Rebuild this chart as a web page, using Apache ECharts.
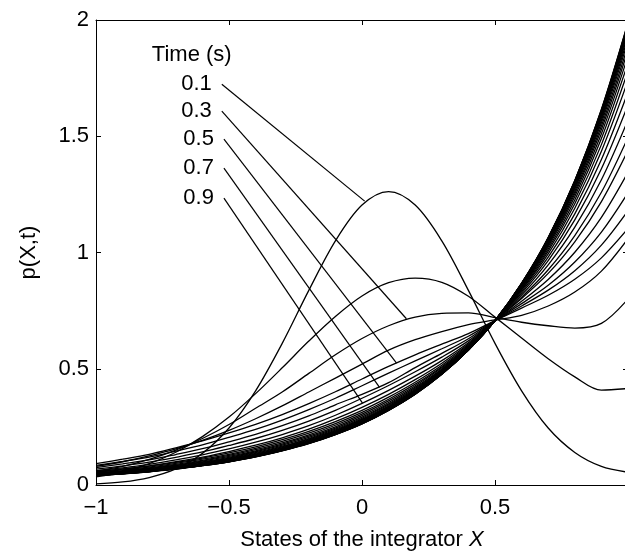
<!DOCTYPE html>
<html>
<head>
<meta charset="utf-8">
<title>p(X,t)</title>
<script src="https://cdn.jsdelivr.net/npm/echarts@6.0.0/dist/echarts.min.js"></script>
<style>
  html, body { margin: 0; padding: 0; background: #fff; }
  #chart { width: 625px; height: 554px; }
</style>
</head>
<body>
<div id="chart"></div>
<script>
// states of the integrator X (sample points)
var xs = [-1, -0.9, -0.8, -0.7, -0.6, -0.5, -0.4, -0.3, -0.2, -0.1, 0, 0.1, 0.2, 0.3, 0.4, 0.5, 0.6, 0.7, 0.8, 0.9, 1];

// p(X,t), one curve every 0.1 s, t = 0.1 ... 3.0 s
var p01 = [0.005, 0.013, 0.032, 0.069, 0.136, 0.245, 0.405, 0.609, 0.837, 1.05, 1.204, 1.262, 1.204, 1.05, 0.837, 0.609, 0.405, 0.245, 0.14, 0.08, 0.055];
var p02 = [0.035, 0.057, 0.092, 0.141, 0.208, 0.292, 0.393, 0.504, 0.619, 0.725, 0.813, 0.870, 0.890, 0.872, 0.812, 0.722, 0.632, 0.543, 0.465, 0.408, 0.415];
var p03 = [0.06, 0.08, 0.11, 0.15, 0.20, 0.26, 0.33, 0.40, 0.48, 0.56, 0.63, 0.685, 0.722, 0.738, 0.74, 0.72, 0.70, 0.685, 0.675, 0.695, 0.80];
var p04 = [0.08, 0.10, 0.125, 0.155, 0.192, 0.235, 0.285, 0.34, 0.40, 0.46, 0.52, 0.58, 0.625, 0.66, 0.69, 0.71, 0.73, 0.77, 0.83, 0.92, 1.06];
var p05 = [0.092, 0.111, 0.132, 0.160, 0.190, 0.224, 0.261, 0.303, 0.350, 0.401, 0.456, 0.510, 0.560, 0.606, 0.651, 0.707, 0.761, 0.816, 0.885, 0.977, 1.103];
var p06 = [0.084, 0.101, 0.120, 0.146, 0.173, 0.205, 0.239, 0.279, 0.324, 0.373, 0.427, 0.481, 0.534, 0.586, 0.640, 0.707, 0.770, 0.838, 0.922, 1.032, 1.18];
var p07 = [0.075, 0.091, 0.108, 0.131, 0.156, 0.186, 0.218, 0.255, 0.297, 0.345, 0.39, 0.44, 0.505, 0.566, 0.629, 0.707, 0.780, 0.859, 0.959, 1.088, 1.257];
var p08 = [0.068, 0.082, 0.098, 0.119, 0.142, 0.170, 0.200, 0.235, 0.275, 0.321, 0.373, 0.428, 0.487, 0.550, 0.620, 0.707, 0.790, 0.884, 1.001, 1.151, 1.345];
var p09 = [0.062, 0.074, 0.089, 0.108, 0.130, 0.155, 0.184, 0.217, 0.255, 0.300, 0.351, 0.407, 0.468, 0.535, 0.612, 0.707, 0.802, 0.910, 1.046, 1.219, 1.439];
var p10 = [0.057, 0.069, 0.082, 0.100, 0.120, 0.144, 0.171, 0.203, 0.240, 0.284, 0.334, 0.390, 0.453, 0.524, 0.606, 0.707, 0.808, 0.926, 1.073, 1.259, 1.495];
var p11 = [0.058, 0.068, 0.081, 0.097, 0.116, 0.138, 0.164, 0.195, 0.231, 0.273, 0.321, 0.378, 0.442, 0.515, 0.602, 0.707, 0.817, 0.947, 1.109, 1.313, 1.57];
var p12 = [0.055, 0.065, 0.077, 0.093, 0.111, 0.132, 0.158, 0.188, 0.223, 0.264, 0.312, 0.369, 0.434, 0.509, 0.598, 0.707, 0.825, 0.965, 1.14, 1.36, 1.635];
var p13 = [0.053, 0.062, 0.074, 0.089, 0.106, 0.127, 0.152, 0.181, 0.216, 0.257, 0.305, 0.362, 0.427, 0.504, 0.595, 0.707, 0.832, 0.980, 1.166, 1.40, 1.69];
var p14 = [0.051, 0.060, 0.071, 0.085, 0.103, 0.123, 0.147, 0.176, 0.210, 0.250, 0.298, 0.355, 0.421, 0.499, 0.593, 0.707, 0.838, 0.994, 1.19, 1.436, 1.74];
var p15 = [0.049, 0.058, 0.069, 0.083, 0.099, 0.119, 0.143, 0.171, 0.205, 0.245, 0.292, 0.349, 0.416, 0.496, 0.591, 0.707, 0.842, 1.006, 1.21, 1.464, 1.78];
var p16 = [0.048, 0.056, 0.067, 0.080, 0.097, 0.116, 0.139, 0.167, 0.200, 0.240, 0.287, 0.345, 0.412, 0.492, 0.589, 0.707, 0.847, 1.015, 1.226, 1.49, 1.815];
var p17 = [0.047, 0.055, 0.065, 0.078, 0.094, 0.113, 0.136, 0.164, 0.197, 0.236, 0.283, 0.341, 0.408, 0.490, 0.587, 0.707, 0.850, 1.024, 1.241, 1.511, 1.845];
var p18 = [0.046, 0.054, 0.064, 0.077, 0.092, 0.111, 0.133, 0.161, 0.194, 0.233, 0.280, 0.337, 0.405, 0.487, 0.586, 0.707, 0.853, 1.031, 1.253, 1.529, 1.87];
var p19 = [0.045, 0.053, 0.063, 0.075, 0.091, 0.109, 0.131, 0.159, 0.191, 0.230, 0.277, 0.334, 0.403, 0.485, 0.585, 0.707, 0.856, 1.036, 1.262, 1.544, 1.89];
var p20 = [0.044, 0.052, 0.062, 0.074, 0.089, 0.107, 0.129, 0.156, 0.189, 0.227, 0.274, 0.332, 0.400, 0.483, 0.584, 0.707, 0.858, 1.042, 1.272, 1.558, 1.91];
var p21 = [0.043, 0.051, 0.061, 0.073, 0.088, 0.106, 0.128, 0.155, 0.187, 0.225, 0.272, 0.330, 0.398, 0.482, 0.583, 0.707, 0.860, 1.046, 1.279, 1.569, 1.925];
var p22 = [0.043, 0.050, 0.060, 0.072, 0.087, 0.105, 0.126, 0.153, 0.185, 0.224, 0.270, 0.328, 0.397, 0.481, 0.583, 0.707, 0.861, 1.050, 1.285, 1.578, 1.938];
var p23 = [0.042, 0.050, 0.060, 0.071, 0.086, 0.104, 0.125, 0.152, 0.184, 0.222, 0.269, 0.326, 0.396, 0.480, 0.582, 0.707, 0.863, 1.053, 1.291, 1.586, 1.949];
var p24 = [0.042, 0.049, 0.059, 0.071, 0.085, 0.103, 0.124, 0.151, 0.183, 0.221, 0.267, 0.325, 0.394, 0.479, 0.582, 0.707, 0.864, 1.055, 1.295, 1.593, 1.958];
var p25 = [0.042, 0.049, 0.059, 0.070, 0.085, 0.102, 0.124, 0.150, 0.182, 0.220, 0.266, 0.324, 0.393, 0.478, 0.581, 0.707, 0.865, 1.058, 1.299, 1.598, 1.966];
var p26 = [0.041, 0.049, 0.058, 0.070, 0.084, 0.101, 0.123, 0.149, 0.181, 0.219, 0.265, 0.323, 0.393, 0.477, 0.581, 0.707, 0.866, 1.060, 1.302, 1.603, 1.973];
var p27 = [0.041, 0.049, 0.058, 0.069, 0.084, 0.101, 0.122, 0.149, 0.180, 0.218, 0.264, 0.322, 0.392, 0.477, 0.581, 0.707, 0.866, 1.061, 1.305, 1.607, 1.978];
var p28 = [0.041, 0.048, 0.058, 0.069, 0.083, 0.100, 0.122, 0.148, 0.179, 0.218, 0.264, 0.322, 0.391, 0.476, 0.580, 0.707, 0.867, 1.062, 1.307, 1.611, 1.983];
var p29 = [0.041, 0.048, 0.057, 0.069, 0.083, 0.100, 0.121, 0.148, 0.179, 0.217, 0.263, 0.321, 0.391, 0.476, 0.580, 0.707, 0.867, 1.064, 1.309, 1.613, 1.987];
var p30 = [0.041, 0.048, 0.057, 0.068, 0.083, 0.100, 0.121, 0.147, 0.178, 0.217, 0.263, 0.321, 0.390, 0.476, 0.580, 0.707, 0.868, 1.064, 1.310, 1.616, 1.99];
var curves = [p01, p02, p03, p04, p05, p06, p07, p08, p09, p10,
              p11, p12, p13, p14, p15, p16, p17, p18, p19, p20,
              p21, p22, p23, p24, p25, p26, p27, p28, p29, p30];

// "Time (s)" callouts: label, where the pointer starts, where it touches its curve
var calloutText = ['0.1', '0.3', '0.5', '0.7', '0.9'];
var calloutFrom = [[-0.527, 1.724], [-0.527, 1.608], [-0.519, 1.488], [-0.519, 1.363], [-0.519, 1.234]];
var calloutTo = [[0.01, 1.221], [0.167, 0.715], [0.13, 0.524], [0.066, 0.42], [0.002, 0.352]];

var xTicks = { min: -1, max: 1, interval: 0.5 };
var yTicks = { min: 0, max: 2, interval: 0.5 };

var FONT = "'Liberation Sans', Arial, sans-serif";
var INK = '#000';

function zip(x, y){
  var out = [];
  for(var i = 0, len = x.length; i < len; i++){
    out.push([x[i], y[i]]);
  }
  return out;
}

function minus(v){
  return String(v).replace('-', '\u2212');
}

function frameAxis(pos, ticks, showLabel, extra){
  var axis = {
    type: 'value',
    position: pos,
    min: ticks.min,
    max: ticks.max,
    interval: ticks.interval,
    axisLine: { show: true, onZero: false, lineStyle: { color: INK, width: 1 } },
    axisTick: { show: true, inside: true, length: 5, lineStyle: { color: INK, width: 1 } },
    axisLabel: { show: showLabel, color: INK, fontFamily: FONT, fontSize: 22, formatter: minus },
    splitLine: { show: false }
  };
  for(var k in extra){ axis[k] = extra[k]; }
  return axis;
}

var series = [];
for(var i = 0; i < curves.length; i++){
  series.push({
    type: 'line',
    data: zip(xs, curves[i]),
    smooth: 0.33,
    showSymbol: false,
    silent: true,
    lineStyle: { color: INK, width: 1.3 }
  });
}
for(var j = 0; j < calloutText.length; j++){
  series.push({
    type: 'line',
    data: [calloutFrom[j], calloutTo[j]],
    showSymbol: false,
    silent: true,
    lineStyle: { color: INK, width: 1.2 }
  });
}

var chart = echarts.init(document.getElementById('chart'));
chart.setOption({
  animation: false,
  backgroundColor: '#fff',
  // the frame runs just past the right edge of the window, as in the original
  grid: { left: 96, top: 20, width: 532, height: 465, outerBoundsMode: 'none', containLabel: false },
  xAxis: [
    frameAxis('bottom', xTicks, true, {
      name: 'States of the integrator {i|X}',
      nameLocation: 'middle',
      nameGap: 44,
      nameTextStyle: {
        color: INK, fontFamily: FONT, fontSize: 22,
        rich: { i: { fontStyle: 'italic', fontFamily: FONT, fontSize: 22, color: INK } }
      },
      axisLabel: { color: INK, fontFamily: FONT, fontSize: 22, margin: 12, showMaxLabel: false, formatter: minus }
    }),
    frameAxis('top', xTicks, false, {})
  ],
  yAxis: [
    frameAxis('left', yTicks, true, {
      name: 'p(X,t)',
      nameLocation: 'middle',
      nameGap: 56,
      nameTextStyle: { color: INK, fontFamily: FONT, fontSize: 22 },
      axisLabel: { color: INK, fontFamily: FONT, fontSize: 22, margin: 7 }
    }),
    frameAxis('right', yTicks, false, {})
  ],
  series: series
});

// header and time labels, placed at the pointer starts
var head = chart.convertToPixel({ gridIndex: 0 }, calloutFrom[0]);
var texts = [{
  type: 'text',
  x: head[0] - 70,
  y: head[1] - 29,
  style: { text: 'Time (s)', fill: INK, font: '22px ' + FONT, align: 'left', verticalAlign: 'middle' }
}];
for(var m = 0; m < calloutText.length; m++){
  var pt = chart.convertToPixel({ gridIndex: 0 }, calloutFrom[m]);
  texts.push({
    type: 'text',
    x: pt[0] - 10,
    y: pt[1],
    style: { text: calloutText[m], fill: INK, font: '22px ' + FONT, align: 'right', verticalAlign: 'middle' }
  });
}
chart.setOption({ graphic: texts });
</script>
</body>
</html>
